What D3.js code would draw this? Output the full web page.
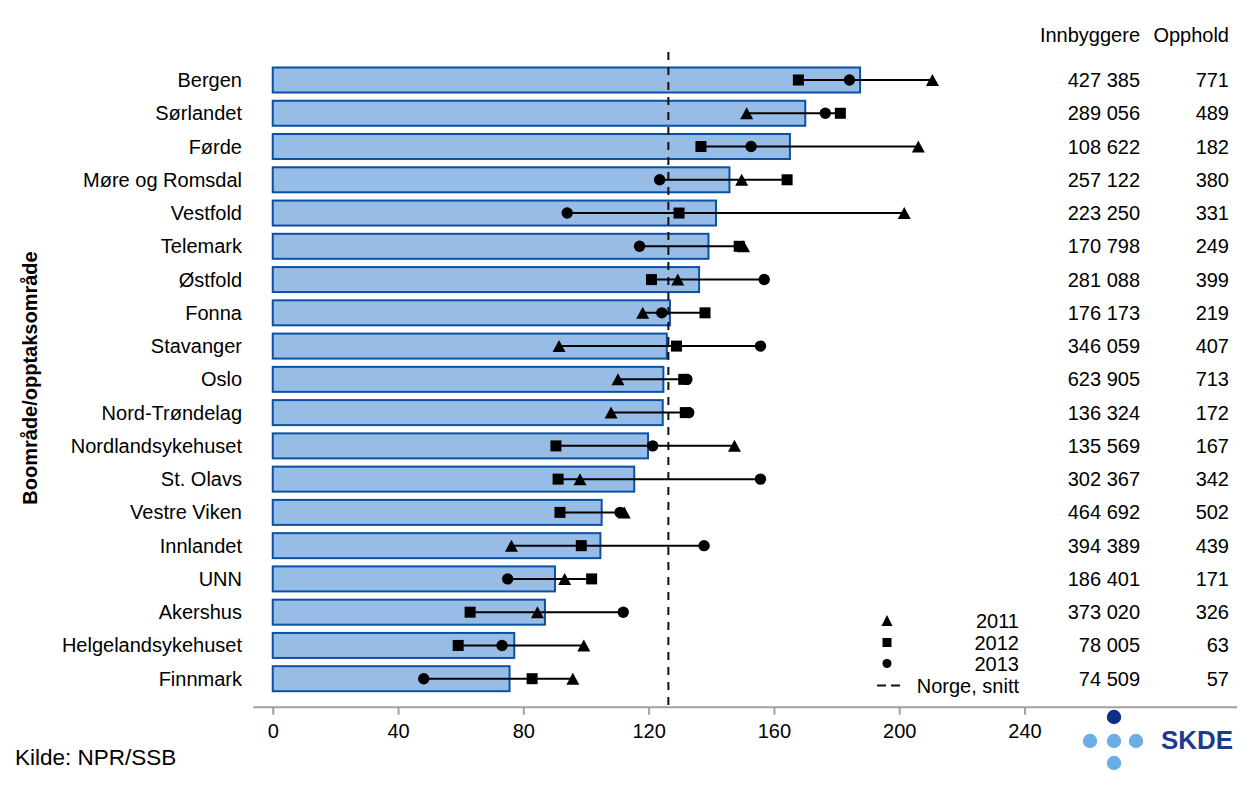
<!DOCTYPE html>
<html>
<head>
<meta charset="utf-8">
<script src="https://cdn.jsdelivr.net/npm/d3@7"></script>
<style>
  html, body { margin: 0; padding: 0; background: #fff; }
  svg { display: block; font-family: "Liberation Sans", Arial, sans-serif; }
</style>
</head>
<body>
<svg id="chart" width="1259" height="787"></svg>
<script>
// ---- data ----
const categories = ["Bergen","Sørlandet","Førde","Møre og Romsdal","Vestfold","Telemark","Østfold","Fonna","Stavanger","Oslo","Nord-Trøndelag","Nordlandsykehuset","St. Olavs","Vestre Viken","Innlandet","UNN","Akershus","Helgelandsykehuset","Finnmark"];
const rateAvg = [187.5,170.0,165.1,145.8,141.5,139.1,136.1,126.8,125.8,124.7,124.5,119.8,115.4,105.0,104.6,90.1,86.9,77.1,75.6];
const rate2011 = [210.6,151.3,206.1,149.7,201.6,150.3,129.3,118.1,91.4,110.2,108.0,147.4,98.1,112.2,76.2,93.2,84.5,99.3,95.8];
const rate2012 = [167.8,181.2,136.7,164.2,129.7,148.9,120.9,138.0,128.9,131.2,131.7,90.4,91.1,91.7,98.5,101.8,63.0,59.2,82.8];
const rate2013 = [184.1,176.4,152.7,123.5,94.0,117.1,156.9,124.2,155.7,132.2,132.8,121.3,155.7,110.9,137.7,75.0,111.9,73.2,48.2];
const innbyggere = [427385,289056,108622,257122,223250,170798,281088,176173,346059,623905,136324,135569,302367,464692,394389,186401,373020,78005,74509];
const opphold = [771,489,182,380,331,249,399,219,407,713,172,167,342,502,439,171,326,63,57];
const norgeSnitt = 126.3;
const xTicks = [0,40,80,120,160,200,240];
const legendLabels = ["2011","2012","2013","Norge, snitt"];

// ---- setup ----
const svg = d3.select("#chart");
const font = "20px";
const x = d3.scaleLinear().domain([-6.4, 307.7]).range([252.7, 1236.6]);
const y = d3.scalePoint().domain(categories).range([80, 678.7]);
const barH = 25;

const rows = categories.map((c, i) => ({
  c, avg: rateAvg[i], v11: rate2011[i], v12: rate2012[i], v13: rate2013[i],
  inn: innbyggere[i], opp: opphold[i]
}));

// bars
svg.append("g").selectAll("rect").data(rows).join("rect")
  .attr("x", x(0))
  .attr("y", d => y(d.c) - barH / 2)
  .attr("width", d => x(d.avg) - x(0))
  .attr("height", barH)
  .attr("fill", "#97bde6")
  .attr("stroke", "#0a50a3")
  .attr("stroke-width", 2);

// Norway average dashed line
svg.append("line")
  .attr("x1", x(norgeSnitt)).attr("x2", x(norgeSnitt))
  .attr("y1", 52).attr("y2", 706)
  .attr("stroke", "#111").attr("stroke-width", 2)
  .attr("stroke-dasharray", "8,7");

// range lines
svg.append("g").selectAll("line").data(rows).join("line")
  .attr("x1", d => x(Math.min(d.v11, d.v12, d.v13)))
  .attr("x2", d => x(Math.max(d.v11, d.v12, d.v13)))
  .attr("y1", d => y(d.c)).attr("y2", d => y(d.c))
  .attr("stroke", "#000").attr("stroke-width", 2);

function triPath(w, h) { return `M0,${-h/2}L${w/2},${h/2}L${-w/2},${h/2}Z`; }

const markers = svg.append("g");
// 2011 triangles
markers.selectAll(".t").data(rows).join("path").attr("class", "t")
  .attr("d", triPath(13, 12))
  .attr("transform", d => `translate(${x(d.v11)},${y(d.c)})`)
  .attr("fill", "#000");
// 2012 squares
markers.selectAll(".s").data(rows).join("rect").attr("class", "s")
  .attr("x", d => x(d.v12) - 5.5).attr("y", d => y(d.c) - 5.5)
  .attr("width", 11).attr("height", 11).attr("fill", "#000");
// 2013 circles
markers.selectAll(".c").data(rows).join("circle").attr("class", "c")
  .attr("cx", d => x(d.v13)).attr("cy", d => y(d.c)).attr("r", 5.7)
  .attr("fill", "#000");

// category labels
svg.append("g").selectAll("text").data(rows).join("text")
  .attr("x", 242).attr("y", d => y(d.c)).attr("dy", "0.35em")
  .attr("text-anchor", "end").attr("font-size", font).attr("fill", "#000")
  .text(d => d.c);

// y title
svg.append("text")
  .attr("transform", "translate(37,378) rotate(-90)")
  .attr("text-anchor", "middle").attr("font-size", "20px").attr("font-weight", "bold")
  .text("Boområde/opptaksområde");

// x axis
const xAxis = d3.axisBottom(x).tickValues(xTicks).tickSize(8).tickSizeOuter(0).tickPadding(9);
const ax = svg.append("g").attr("transform", "translate(0,706.7)").call(xAxis);
ax.select(".domain").attr("stroke", "#a0a0a0").attr("stroke-width", 2);
ax.selectAll(".tick line").attr("stroke", "#a0a0a0").attr("stroke-width", 2);
ax.selectAll(".tick text").attr("font-size", font).attr("fill", "#000")
  .attr("font-family", "Liberation Sans, Arial, sans-serif");

// table
const fmt = d3.formatLocale({ decimal: ",", thousands: " ", grouping: [3], currency: ["", ""] }).format(",d");
svg.append("text").attr("x", 1140).attr("y", 35).attr("dy", "0.35em")
  .attr("text-anchor", "end").attr("font-size", font).text("Innbyggere");
svg.append("text").attr("x", 1229).attr("y", 35).attr("dy", "0.35em")
  .attr("text-anchor", "end").attr("font-size", font).text("Opphold");
svg.append("g").selectAll("text").data(rows).join("text")
  .attr("x", 1140).attr("y", d => y(d.c)).attr("dy", "0.35em")
  .attr("text-anchor", "end").attr("font-size", font).text(d => fmt(d.inn));
svg.append("g").selectAll("text").data(rows).join("text")
  .attr("x", 1229).attr("y", d => y(d.c)).attr("dy", "0.35em")
  .attr("text-anchor", "end").attr("font-size", font).text(d => d.opp);

// legend
const lg = svg.append("g");
const lgY = [620.5, 642.5, 663.5, 685.5];
const lgX = 887;
lg.append("path").attr("d", triPath(11, 11)).attr("transform", `translate(${lgX},${lgY[0]})`);
lg.append("rect").attr("x", lgX - 4.5).attr("y", lgY[1] - 4.5).attr("width", 9).attr("height", 9);
lg.append("circle").attr("cx", lgX).attr("cy", lgY[2]).attr("r", 4.5);
lg.append("line").attr("x1", 877).attr("x2", 900).attr("y1", lgY[3]).attr("y2", lgY[3])
  .attr("stroke", "#111").attr("stroke-width", 2).attr("stroke-dasharray", "9,5");
lg.selectAll("text").data(legendLabels).join("text")
  .attr("x", 1019).attr("y", (d, i) => lgY[i]).attr("dy", "0.35em")
  .attr("text-anchor", "end").attr("font-size", font).text(d => d);

// source
svg.append("text").attr("x", 15).attr("y", 765).attr("font-size", "22.5px").text("Kilde: NPR/SSB");

// logo
const logo = svg.append("g");
logo.append("circle").attr("cx", 1114).attr("cy", 717).attr("r", 7.2).attr("fill", "#0b2f86");
[[1090, 741], [1114, 741], [1136, 741], [1114, 763]].forEach(p =>
  logo.append("circle").attr("cx", p[0]).attr("cy", p[1]).attr("r", 7.2).attr("fill", "#6cade6"));
logo.append("text").attr("x", 1161).attr("y", 748.5).attr("font-size", "25px").attr("font-weight", "bold")
  .attr("fill", "#1a3c8f").attr("textLength", 72).attr("lengthAdjust", "spacingAndGlyphs").text("SKDE");
</script>
</body>
</html>
